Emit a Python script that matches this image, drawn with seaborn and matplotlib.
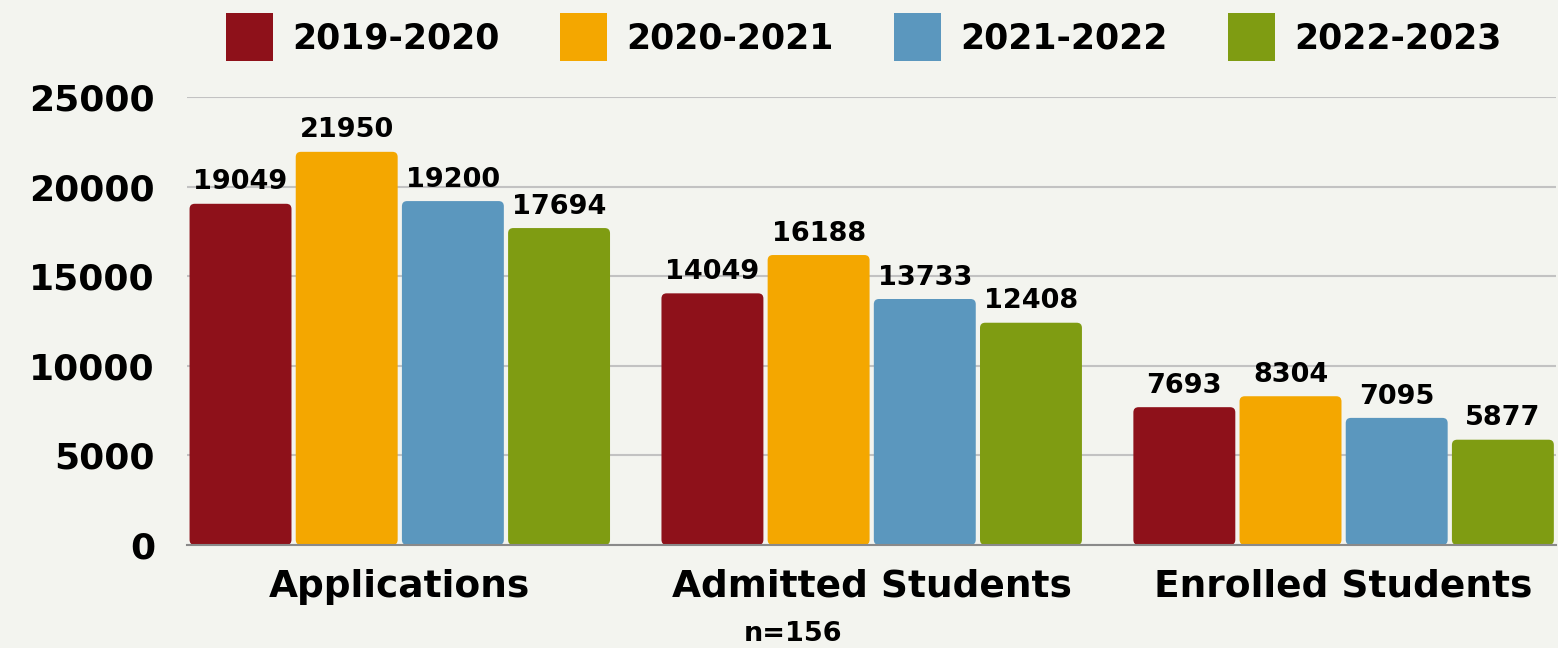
import numpy as np
import pandas as pd
import matplotlib
matplotlib.use('Agg')
from matplotlib import pyplot as plt
from matplotlib.patches import FancyBboxPatch, Patch
import seaborn as sns

categories = ['Applications', 'Admitted Students', 'Enrolled Students']
years = ['2019-2020', '2020-2021', '2021-2022', '2022-2023']
vals_2019 = [19049, 14049, 7693]
vals_2020 = [21950, 16188, 8304]
vals_2021 = [19200, 13733, 7095]
vals_2022 = [17694, 12408, 5877]
yticks = [0, 5000, 10000, 15000, 20000, 25000]
note = 'n=156'

colors = ['#8E111A', '#F4A700', '#5B97BE', '#7F9C12']
bg = '#F3F4EF'

rows = []
for yr, vals in zip(years, [vals_2019, vals_2020, vals_2021, vals_2022]):
    for cat, v in zip(categories, vals):
        rows.append({'category': cat, 'year': yr, 'value': v})
df = pd.DataFrame(rows)

sns.set_theme(style='white')
plt.rcParams['font.family'] = ['DejaVu Sans']
plt.rcParams['font.weight'] = 'bold'
plt.rcParams['text.color'] = 'black'
plt.rcParams['xtick.color'] = 'black'
plt.rcParams['ytick.color'] = 'black'

fig = plt.figure(figsize=(15.58, 6.48), dpi=100, facecolor=bg)
ax = fig.add_axes([0.120, 0.159, 0.879, 0.691])
ax.set_facecolor(bg)

sns.barplot(data=df, x='category', y='value', hue='year', hue_order=years,
            order=categories, palette=colors, width=0.9, gap=0.04,
            saturation=1, legend=False, ax=ax)

ax.set_xlim(-0.451, 2.451)
ax.set_ylim(0, 25000)

# value labels
for cont in ax.containers:
    ax.bar_label(cont, fmt='%d', padding=6, fontsize=19.5, fontweight='bold', color='black')

# rounded corners
asp = (25000 / 448) / (2.902 / 1370)
for p in list(ax.patches):
    x0, y0 = p.get_x(), p.get_y()
    w, h = p.get_width(), p.get_height()
    fb = FancyBboxPatch((x0, y0), w, h,
                        boxstyle='round,pad=0,rounding_size=0.011',
                        mutation_aspect=asp, facecolor=p.get_facecolor(),
                        edgecolor='none', zorder=2)
    p.remove()
    ax.add_patch(fb)

ax.set_yticks(yticks)
ax.yaxis.grid(True, color='#C2C2C2', lw=1.5)
ax.set_axisbelow(True)
for s in ['left', 'right', 'top']:
    ax.spines[s].set_visible(False)
ax.spines['bottom'].set_color('#8A8A8A')
ax.spines['bottom'].set_linewidth(1.5)
ax.tick_params(axis='y', length=0, pad=23, labelsize=26, labelcolor='black')
ax.tick_params(axis='x', length=0, pad=17, labelsize=27, labelcolor='black')
for lab in ax.get_xticklabels() + ax.get_yticklabels():
    lab.set_fontweight('bold')
ax.set_xlabel('')
ax.set_ylabel('')

handles = [Patch(facecolor=c, edgecolor='none', label=y) for c, y in zip(colors, years)]
fig.legend(handles=handles, loc='upper center', bbox_to_anchor=(0.5545, 1.028),
           ncol=4, frameon=False, prop={'size': 25, 'weight': 'bold'},
           handlelength=1.35, handleheight=1.75, handletextpad=0.55, columnspacing=1.75)

fig.text(793 / 1558, 1 - 634 / 648, note, ha='center', va='center',
         fontsize=19.5, fontweight='bold')

fig.savefig('out.png', dpi=100, facecolor=bg)
